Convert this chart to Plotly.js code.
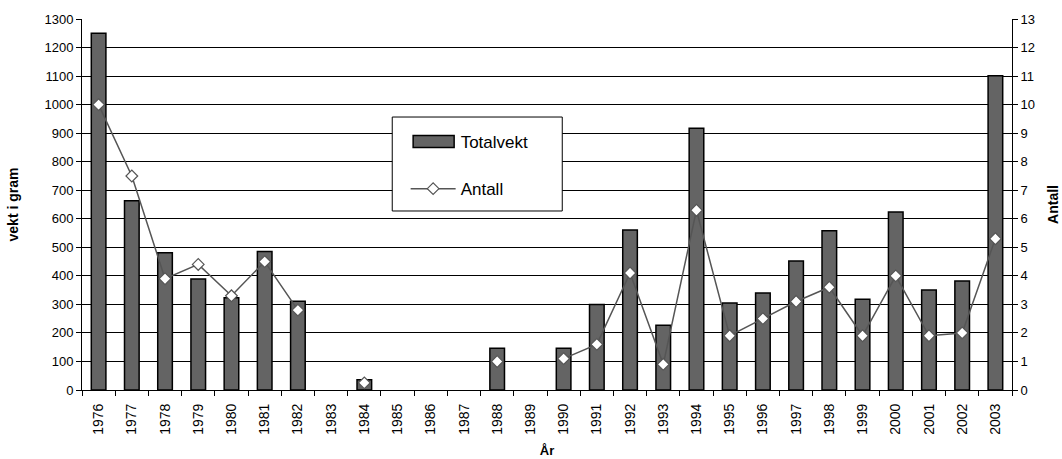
<!DOCTYPE html>
<html>
<head>
<meta charset="utf-8">
<script src="https://cdn.plot.ly/plotly-3.0.1.min.js"></script>
<style>html,body{margin:0;padding:0;background:#fff;}#chart{width:1062px;height:459px;}</style>
</head>
<body>
<div id="chart"></div>
<script>
const years = ['1976','1977','1978','1979','1980','1981','1982','1983','1984','1985','1986','1987','1988','1989','1990','1991','1992','1993','1994','1995','1996','1997','1998','1999','2000','2001','2002','2003'];
const totalvekt = [1250,663,481,389,323,485,311,null,36,null,null,null,146,null,146,300,561,227,917,305,340,452,558,318,624,350,382,1101];
const antall = [10,7.5,3.9,4.4,3.3,4.5,2.8,null,0.25,null,null,null,1.0,null,1.1,1.6,4.1,0.9,6.3,1.9,2.5,3.1,3.6,1.9,4.0,1.9,2.0,5.3];
const leftTicks = [0,100,200,300,400,500,600,700,800,900,1000,1100,1200,1300];
const rightTicks = [0,1,2,3,4,5,6,7,8,9,10,11,12,13];

const font = '"Liberation Sans", Arial, sans-serif';

const traces = [
  {
    type: 'bar', name: 'Totalvekt', x: years, y: totalvekt, yaxis: 'y',
    width: 0.44,
    marker: {color: '#646464', line: {color: '#000', width: 1.5}},
    legendgroup: 'a'
  },
  {
    type: 'scatter', mode: 'lines+markers', name: 'Antall', x: years, y: antall, yaxis: 'y2',
    connectgaps: false,
    line: {color: '#555555', width: 1.5},
    marker: {symbol: 'diamond', size: 9, color: '#ffffff', line: {color: '#555555', width: 1.2}},
    legendgroup: 'b'
  }
];

const layout = {
  width: 1062, height: 459,
  margin: {l: 82, r: 50, t: 19, b: 69, pad: 0},
  paper_bgcolor: '#fff', plot_bgcolor: '#fff',
  font: {family: font, color: '#000', size: 13},
  showlegend: true,
  legend: {
    x: 0.348, y: 0.717, xanchor: 'left', yanchor: 'top',
    bgcolor: 'rgba(0,0,0,0)', borderwidth: 0,
    font: {size: 17, family: font},
    traceorder: 'grouped', tracegroupgap: 22, itemwidth: 45
  },
  shapes: [{
    type: 'rect', xref: 'paper', yref: 'paper', layer: 'above',
    x0: 0.3336, x1: 0.5164, y0: 0.4825, y1: 0.7358,
    fillcolor: '#fff', line: {color: '#000', width: 1}
  }],
  xaxis: {
    type: 'category', categoryorder: 'array', categoryarray: years,
    range: [-0.5, 27.5], autorange: false,
    tickangle: -90, tickfont: {size: 14},
    ticks: 'outside', ticklen: 5, tickcolor: '#000', tickson: 'boundaries',
    ticklabelstandoff: 7,
    showline: true, linecolor: '#000', linewidth: 1,
    showgrid: false,
    title: {text: 'År', font: {size: 13, family: font, weight: 'bold'}, standoff: 12}
  },
  yaxis: {
    range: [0, 1300], autorange: false, tickvals: leftTicks, ticktext: leftTicks.map(String),
    tickfont: {size: 13},
    ticks: 'outside', ticklen: 5, tickcolor: '#000',
    showline: true, linecolor: '#000', linewidth: 1,
    showgrid: true, gridcolor: '#000', gridwidth: 1,
    zeroline: false,
    title: {text: 'vekt i gram', font: {size: 14, family: font, weight: 'bold'}, standoff: 22}
  },
  yaxis2: {
    range: [0, 13], autorange: false, tickvals: rightTicks, ticktext: rightTicks.map(String),
    overlaying: 'y', side: 'right',
    tickfont: {size: 13},
    ticks: 'outside', ticklen: 5, tickcolor: '#000',
    showline: true, linecolor: '#000', linewidth: 1,
    showgrid: false, zeroline: false,
    title: {text: 'Antall', font: {size: 14, family: font, weight: 'bold'}, standoff: 14}
  },
  bargap: 0.5
};

function widenBarLegend() {
  const groups = document.querySelectorAll('#chart .legend .traces');
  if (!groups.length) return;
  const paths = groups[0].querySelectorAll('.legendpoints path');
  paths.forEach(p => {
    p.setAttribute('d', 'M-20,-6H21V6H-20Z');
  });
}

const gd = document.getElementById('chart');
Plotly.newPlot(gd, traces, layout, {displayModeBar: false, staticPlot: true}).then(() => {
  widenBarLegend();
});
</script>
</body>
</html>
